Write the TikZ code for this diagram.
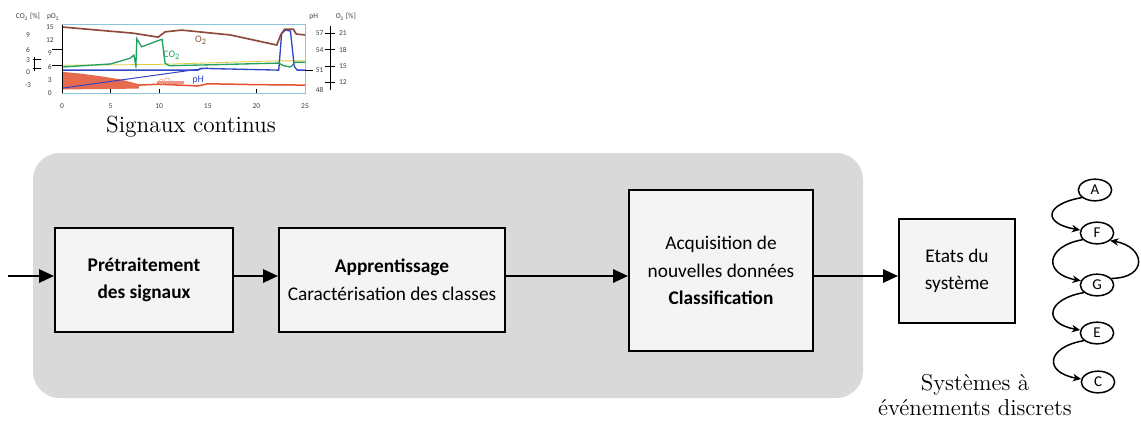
\documentclass[tikz,border=0pt]{standalone}
\usepackage{fontspec}
\usetikzlibrary{arrows.meta,shapes.geometric,positioning}
\newfontfamily\blocfont{Carlito}
\definecolor{fondgris}{HTML}{D9D9D9}
\definecolor{fondbloc}{HTML}{F4F4F4}
\definecolor{courbeO}{HTML}{8E4B3B}
\definecolor{courbeCO}{HTML}{22A060}
\definecolor{courbepH}{HTML}{3346C8}
\definecolor{courbeq}{HTML}{E2502E}
\definecolor{cadre}{HTML}{8CC4E0}
\definecolor{jaune}{HTML}{D8D040}
\begin{document}
\begin{tikzpicture}[x=0.6pt, y=-0.6pt,
        >={Triangle[length=9pt,width=8pt]},
        bloc/.style={draw=black, line width=1.2pt, fill=fondbloc, align=center, inner sep=0pt,
                     font=\blocfont\fontsize{11.6}{16.5}\selectfont},
        fleche/.style={->, black, line width=1.3pt},
        etat/.style={ellipse, draw=black, line width=0.9pt, fill=white, inner sep=0pt,
                     minimum width=20pt, minimum height=13pt, font=\blocfont\fontsize{9}{9}\selectfont},
        trans/.style={-{Stealth[length=5pt,width=4.5pt]}, black, line width=0.9pt},
        eje/.style={black, line width=0.5pt},
        eti/.style={inner sep=0pt, text=black!75, font=\blocfont\fontsize{4.5}{5}\selectfont}]
        % Definiciones
        \def\nivel{276}
        \useasboundingbox (0,0) rectangle (1141,422);
        % Fondo gris
        \fill[fondgris, rounded corners=16pt] (33,153) rectangle (863,398);
        % Grafica de senales
        \begin{scope}[shift={(62,93)}, x=5.832pt, y=2.64pt]
            \draw[cadre, line width=0.4pt] (0,0) rectangle (25,15.5);
            \fill[courbeq!85] (0,4.8) -- (2,4.4) -- (4,3.8) -- (6,3.1) -- (7.9,2) -- (7.9,1) -- (0,0.8) -- cycle;
            \draw[courbeq!60, line width=1.5pt] (9.8,2.4) -- (12.5,2.4);
            \draw[courbeq, line width=0.9pt] (7.9,1.8) -- (10,2) -- (14,1.6) -- (15,2.1) -- (20,1.9) -- (25,1.8);
            \draw[courbepH, line width=0.6pt] (0,1.1) -- (15,5.7);
            \draw[jaune, line width=0.5pt] (0,6.3) -- (10,6.5) -- (22,7.3) -- (25,7.3);
            \draw[courbepH, line width=0.8pt] (0,5.2) -- (14,5.2) -- (14.3,5.6) -- (22.3,5.2) -- (22.6,13.6)
                -- (23,14.3) -- (23.5,14.1) -- (23.9,6) -- (24.2,5.2) -- (25,5.2);
            \draw[courbeCO, line width=0.8pt] (0,5.9) -- (5,6.6) -- (7,7.9) -- (7.4,8.6) -- (7.6,6.2) -- (7.7,12.3)
                -- (8.2,10.5) -- (10,12) -- (10.3,12.2) -- (10.6,6.8) -- (11,6.2) -- (15,6.4) -- (22.3,6.8)
                -- (22.8,6.2) -- (23.5,5.9) -- (24,7) -- (25,7);
            \draw[courbeO, line width=1pt] (0,15) -- (7.3,13.6) -- (9.9,12.7) -- (10.6,13.9) -- (12.3,14.3)
                -- (17.3,13.2) -- (22.1,10.9) -- (22.5,13.2) -- (22.9,14.5) -- (23.8,14.5) -- (24.1,13.4) -- (25,13.2);
            % Ejes
            \draw[eje] (0,0) -- (0,15.5);
            \foreach \v in {0,3,...,15} \node[eti] at (-1.25,\v) {\v};
            \foreach \t in {0,5,...,25} \node[eti] at (\t,-3) {\t};
            \foreach \t in {5,10,20} \draw[eje] (\t,0) -- (\t,1);
            \draw[eje] (-1,9.8) -- (0,9.8) (-1,6.3) -- (0,6.3);
            \draw[eje] (-3,7.6) -- (-2.2,7.6) (-3,5.6) -- (-2.2,5.6) (-2.8,5) -- (-2.8,8.2);
            \foreach \v/\l in {13.2/9, 9.8/6, 7.5/3, 4.8/0, 1.8/-3} \node[eti] at (-3.5,\v) {\l};
            \node[eti] at (-3.5,17.3) {CO\textsubscript{2} [\%]};
            \node[eti] at (-0.9,17.3) {pO\textsubscript{2}};
            \foreach \v/\l in {13.6/57, 9.8/54, 5.2/51, 0.7/48} \node[eti] at (26.5,\v) {\l};
            \node[eti] at (25.9,17.3) {pH};
            \draw[eje] (25,5.2) -- (25.8,5.2);
            \draw[eje] (27.6,0.6) -- (27.6,15.2);
            \foreach \v/\l in {13.6/21, 9.8/18, 6/15, 2.5/12} {
                \draw[eje] (27.1,\v) -- (28.1,\v);
                \node[eti] at (28.9,\v) {\l};
            }
            \node[eti] at (29.2,17.3) {O\textsubscript{2} [\%]};
            \node[courbeO, font=\blocfont\fontsize{6}{6}\selectfont] at (14.3,12) {O\textsubscript{2}};
            \node[courbeCO, font=\blocfont\fontsize{6}{6}\selectfont] at (11.3,8.6) {CO\textsubscript{2}};
            \node[courbepH, font=\blocfont\fontsize{6}{6}\selectfont] at (14,3) {pH};
            \node[courbeq!55, font=\blocfont\fontsize{6}{6}\selectfont] at (10.8,2.4) {qO\textsubscript{2}};
        \end{scope}
        \node[font=\fontsize{14}{16}\selectfont] (titsig) at (191,127) {Signaux continus};
        % Bloques
        \node[bloc, minimum width=106.8pt, minimum height=62.4pt] (pretrait) at (144,280)
            {\textbf{Prétraitement}\\\textbf{des signaux}};
        \node[bloc, minimum width=135.6pt, minimum height=62.4pt] (apprent) at (392,280)
            {\textbf{Apprentissage}\\Caractérisation des classes};
        \node[bloc, minimum width=110.4pt, minimum height=96.6pt] (classif) at (721,270.5)
            {Acquisition de\\nouvelles données\\\textbf{Classification}};
        \node[bloc, minimum width=69.6pt, minimum height=62.4pt] (etats) at (957,271)
            {Etats du\\système};
        % Flechas
        \coordinate (entree) at (8,\nivel);
        \draw[fleche] (entree) -- (entree -| pretrait.west);
        \draw[fleche] (pretrait.east |- entree) -- (apprent.west |- entree);
        \draw[fleche] (apprent.east |- entree) -- (classif.west |- entree);
        \draw[fleche] (classif.east |- entree) -- (etats.west |- entree);
        % Automata
        \node[etat] (sA) at (1095,190) {A};
        \node[etat] (sF) at (1097,233) {F};
        \node[etat] (sG) at (1097,285) {G};
        \node[etat] (sE) at (1097,333) {E};
        \node[etat] (sC) at (1098,382) {C};
        \draw[trans] (sA.210) to[out=190, in=170, distance=23pt] (sF.170);
        \draw[trans] (sF.205) to[out=190, in=170, distance=23pt] (sG.165);
        \draw[trans] (sG.25) to[out=0, in=-10, distance=22pt] (sF.-30);
        \draw[trans] (sG.210) to[out=190, in=170, distance=23pt] (sE.170);
        \draw[trans] (sE.210) to[out=190, in=170, distance=23pt] (sC.170);
        \node[align=center, font=\fontsize{13.8}{15.5}\selectfont] (titsed) at (975,395) {Systèmes à\\événements discrets};
\end{tikzpicture}
\end{document}
